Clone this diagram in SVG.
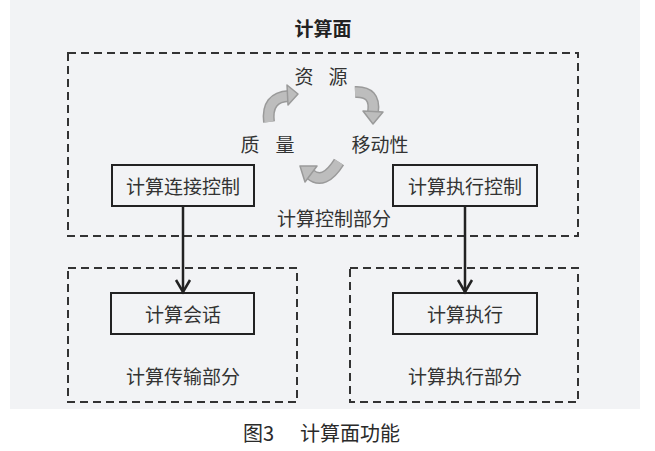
<svg xmlns="http://www.w3.org/2000/svg" width="655" height="451" viewBox="0 0 655 451">
<style>
.t{font-family:"Noto Sans CJK SC","Noto Sans",sans-serif;font-size:19px;fill:#333;text-anchor:middle;dominant-baseline:central}
.dash{fill:none;stroke:#333;stroke-width:2;stroke-dasharray:8 5}
.box{fill:none;stroke:#222;stroke-width:2}
.conn{fill:none;stroke:#222;stroke-width:2.5}
.cb{fill:none;stroke:#9a9a9a;stroke-width:12}
.ci{fill:none;stroke:#bdbdbd;stroke-width:9}
.ch{fill:#bdbdbd;stroke:#9a9a9a;stroke-width:1.5;stroke-linejoin:round}
</style>
<rect x="0" y="0" width="655" height="451" fill="#ffffff"/>
<rect x="10" y="0" width="630" height="409" fill="#f2f3f5"/>
<text class="t" x="323" y="27" style="font-weight:bold;fill:#222">计算面</text>
<g id="control-part">
<rect class="dash" x="68" y="53" width="510" height="183"/>
<text class="t" x="334" y="217">计算控制部分</text>
</g>
<g id="transfer-part">
<rect class="dash" x="68" y="268" width="229" height="134"/>
<text class="t" x="183" y="375">计算传输部分</text>
</g>
<g id="exec-part">
<rect class="dash" x="350" y="268" width="228" height="134"/>
<text class="t" x="465" y="375">计算执行部分</text>
</g>
<g id="cycle">
<text class="t" x="304" y="75">资</text>
<text class="t" x="338" y="75">源</text>
<text class="t" x="250" y="143">质</text>
<text class="t" x="285" y="143">量</text>
<text class="t" x="380" y="143">移动性</text>
<path class="cb" d="M269,122 Q266,97 289,96"/>
<path class="ci" d="M269,122 Q266,97 289,96"/>
<polygon class="ch" points="298,94 287,85 288,105"/>
<path class="cb" d="M355,92 Q376,91 373,112"/>
<path class="ci" d="M355,92 Q376,91 373,112"/>
<polygon class="ch" points="373,124 363,111 383,112"/>
<path class="cb" d="M339,162 Q324,186 310,174"/>
<path class="ci" d="M339,162 Q324,186 310,174"/>
<polygon class="ch" points="300,166 317,166 305,182"/>
</g>
<g id="conn-ctrl">
<rect class="box" x="112" y="165" width="142" height="41"/>
<text class="t" x="183" y="185.5">计算连接控制</text>
</g>
<g id="exec-ctrl">
<rect class="box" x="393" y="165" width="144" height="41"/>
<text class="t" x="465" y="185.5">计算执行控制</text>
</g>
<g id="session">
<rect class="box" x="111" y="293" width="143" height="41"/>
<text class="t" x="183" y="313.5">计算会话</text>
</g>
<g id="exec">
<rect class="box" x="393" y="293" width="144" height="41"/>
<text class="t" x="465" y="313.5">计算执行</text>
</g>
<g id="connectors">
<line class="conn" x1="183" y1="206" x2="183" y2="292"/>
<polyline class="conn" points="176,280 183,292 190,280"/>
<line class="conn" x1="465" y1="206" x2="465" y2="292"/>
<polyline class="conn" points="458,280 465,292 472,280"/>
</g>
<text x="243" y="432" style="font-family:'Noto Sans CJK SC','Liberation Serif',serif;font-size:20px;fill:#2a2a2a;dominant-baseline:central">图3<tspan x="300">计算面功能</tspan></text>
</svg>
